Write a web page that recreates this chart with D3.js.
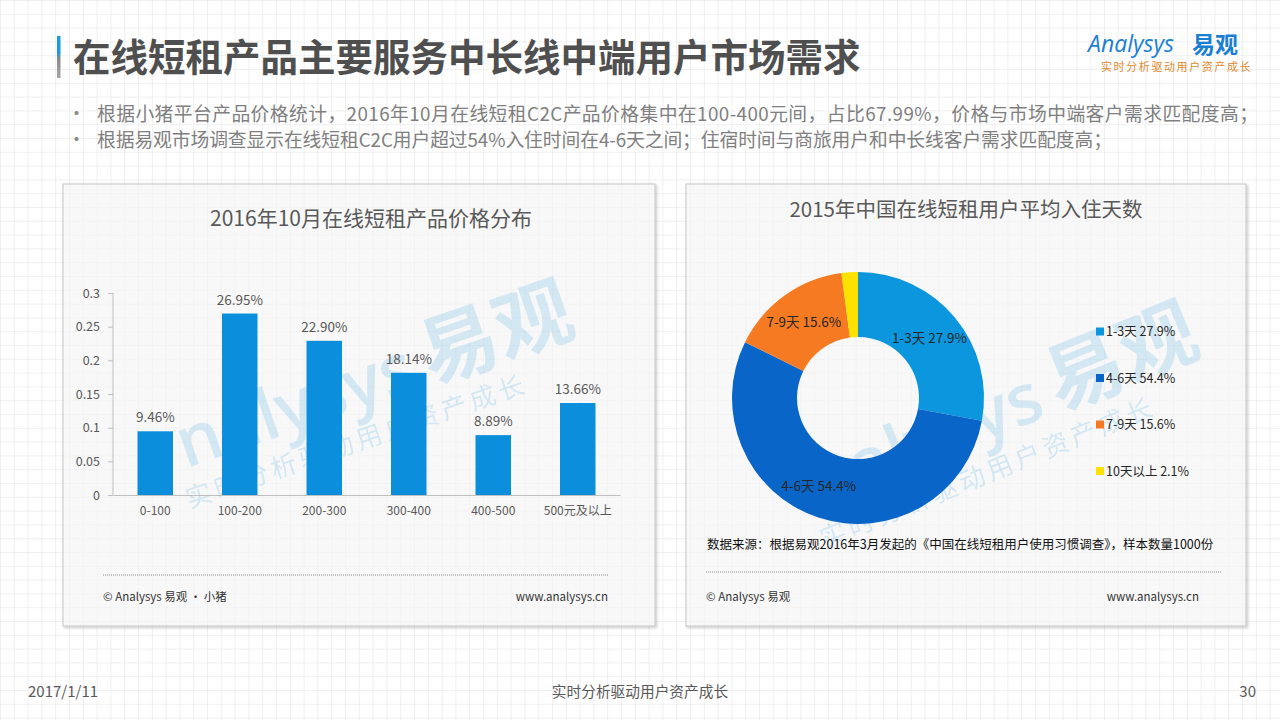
<!DOCTYPE html>
<html>
<head>
<meta charset="utf-8">
<script src="https://cdn.jsdelivr.net/npm/d3@7"></script>
<style>
  body { margin: 0; background: #fff; }
  svg { display: block; font-family: "Noto Sans CJK SC", "Noto Sans", sans-serif; }
</style>
</head>
<body>
<svg id="slide" width="1280" height="720"></svg>
<script>
// data
const priceCats = ["0-100", "100-200", "200-300", "300-400", "400-500", "500元及以上"];
const priceShares = [0.0946, 0.2695, 0.2290, 0.1814, 0.0889, 0.1366];
const priceLabels = ["9.46%", "26.95%", "22.90%", "18.14%", "8.89%", "13.66%"];
const yTicks = [0, 0.05, 0.1, 0.15, 0.2, 0.25, 0.3];

const stayCats = ["1-3天", "4-6天", "7-9天", "10天以上"];
const stayShares = [27.9, 54.4, 15.6, 2.1];
const stayColors = ["#0b96dd", "#0a65c9", "#f57a21", "#ffe100"];

const bullets = [
  "根据小猪平台产品价格统计，2016年10月在线短租C2C产品价格集中在100-400元间，占比67.99%，价格与市场中端客户需求匹配度高；",
  "根据易观市场调查显示在线短租C2C用户超过54%入住时间在4-6天之间；住宿时间与商旅用户和中长线客户需求匹配度高；"
];
const bulletWidths = [1161, 1015];

const svg = d3.select("#slide");

// grid paper background
const defs = svg.append("defs");
const pat = defs.append("pattern")
    .attr("id", "grid")
    .attr("width", 13.8).attr("height", 13.8)
    .attr("patternUnits", "userSpaceOnUse");
pat.append("path")
    .attr("d", "M13.8 0 L0 0 0 13.8")
    .attr("fill", "none")
    .attr("stroke", "#e2e2e2")
    .attr("stroke-width", 1);
const sh = defs.append("filter").attr("id", "shadow").attr("x", "-5%").attr("y", "-5%").attr("width", "110%").attr("height", "110%");
sh.append("feDropShadow").attr("dx", 1.5).attr("dy", 1.5).attr("stdDeviation", 1.2).attr("flood-color", "#000").attr("flood-opacity", 0.25);
const barGrad = defs.append("linearGradient").attr("id", "titleBar").attr("x1", 0).attr("y1", 0).attr("x2", 0).attr("y2", 1);
barGrad.append("stop").attr("offset", "0%").attr("stop-color", "#1b9be0");
barGrad.append("stop").attr("offset", "38%").attr("stop-color", "#1b9be0");
barGrad.append("stop").attr("offset", "55%").attr("stop-color", "#8a8a8a");
barGrad.append("stop").attr("offset", "100%").attr("stop-color", "#a8a8a8");

svg.append("rect").attr("width", 1280).attr("height", 720).attr("fill", "#fff");
svg.append("rect").attr("width", 1280).attr("height", 720).attr("fill", "url(#grid)");

// title
svg.append("rect").attr("x", 57).attr("y", 36).attr("width", 3.5).attr("height", 42).attr("fill", "url(#titleBar)");
svg.append("text")
    .attr("x", 73).attr("y", 71)
    .attr("font-size", 37.5).attr("font-weight", "bold").attr("fill", "#4f4f4f")
    .text("在线短租产品主要服务中长线中端用户市场需求");

// logo
const logo = svg.append("g").attr("transform", "translate(1088,0)");
logo.append("text")
    .attr("x", 0).attr("y", 52)
    .attr("font-size", 23).attr("fill", "#1a7fd2").attr("font-family", "Open Sans, sans-serif")
    .attr("font-style", "italic")
    .text("Analysys");
logo.append("text")
    .attr("x", 104).attr("y", 53)
    .attr("font-size", 23).attr("font-weight", "bold").attr("fill", "#1a7fd2")
    .text("易观");
logo.append("text")
    .attr("x", 13).attr("y", 71)
    .attr("font-size", 11).attr("fill", "#e0882c").attr("letter-spacing", 1.6)
    .text("实时分析驱动用户资产成长");

// bullets
bullets.forEach((b, i) => {
  const y = 121 + i * 26;
  svg.append("text").attr("x", 67).attr("y", y).attr("font-size", 19).attr("fill", "#8a8a8a").text("•");
  svg.append("text").attr("x", 97).attr("y", y)
      .attr("font-size", 18.8).attr("fill", "#7f7f7f")
      .attr("textLength", bulletWidths[i]).attr("lengthAdjust", "spacing")
      .text(b);
});

// panels
function panel(id, x, y, w, h) {
  svg.append("rect")
      .attr("x", x).attr("y", y).attr("width", w).attr("height", h)
      .attr("fill", "rgba(255,255,255,0.62)")
      .attr("stroke", "#c4c4c4").attr("stroke-width", 1)
      .attr("filter", "url(#shadow)");
  defs.append("clipPath").attr("id", id)
      .append("rect").attr("x", x + 1).attr("y", y + 1).attr("width", w - 2).attr("height", h - 2);
}
panel("clipL", 63, 184, 592, 442);
panel("clipR", 686, 184, 560, 442);

// light watermark in each panel
function watermark(clip, cx, cy, ang) {
  const g = svg.append("g").attr("clip-path", `url(#${clip})`)
      .append("g").attr("transform", `translate(${cx},${cy}) rotate(${ang})`)
      .attr("fill", "#0a8fd8").attr("opacity", 0.15);
  g.append("text").attr("text-anchor", "end").attr("x", 40).attr("y", 0)
      .attr("font-size", 70).attr("font-weight", 600).attr("font-family", "Open Sans, sans-serif")
      .text("nalysys");
  g.append("text").attr("x", 52).attr("y", 0)
      .attr("font-size", 78).attr("font-weight", "bold")
      .text("易观");
  g.append("text").attr("text-anchor", "middle").attr("x", -37).attr("y", 39)
      .attr("font-size", 26).attr("letter-spacing", 4)
      .text("实时分析驱动用户资产成长");
}
watermark("clipL", 382, 401, -19);
watermark("clipR", 1011, 431, -22);

// ---- left: price distribution bar chart ----
svg.append("text")
    .attr("x", 371).attr("y", 226).attr("text-anchor", "middle")
    .attr("font-size", 21).attr("fill", "#595959")
    .text("2016年10月在线短租产品价格分布");

const x = d3.scaleBand().domain(priceCats).range([113, 620]).paddingInner(0.58).paddingOuter(0.29);
const y = d3.scaleLinear().domain([0, 0.3]).range([495, 293]);

const yAxis = svg.append("g")
    .attr("transform", "translate(113,0)")
    .call(d3.axisLeft(y).tickValues(yTicks).tickSize(5).tickPadding(8).tickFormat(d => String(+d.toFixed(2))));
yAxis.selectAll("text").attr("font-size", 12.5).attr("fill", "#595959").attr("font-family", "Noto Sans CJK SC");
yAxis.selectAll("line").attr("stroke", "#bfbfbf");
yAxis.select(".domain").attr("stroke", "#bfbfbf").attr("d", "M0," + y(0.3) + "V" + y(0));

const xAxis = svg.append("g")
    .attr("transform", "translate(0,495)")
    .call(d3.axisBottom(x).tickSize(0).tickPadding(11));
xAxis.selectAll("text").attr("font-size", 12).attr("fill", "#595959").attr("font-family", "Noto Sans CJK SC");
xAxis.select(".domain").attr("stroke", "#bfbfbf");

const bars = svg.append("g");
bars.selectAll("rect")
    .data(priceShares)
    .join("rect")
    .attr("x", (d, i) => x(priceCats[i]))
    .attr("y", d => y(d))
    .attr("width", x.bandwidth())
    .attr("height", d => y(0) - y(d))
    .attr("fill", "#0b8fdc");
bars.selectAll("text")
    .data(priceShares)
    .join("text")
    .attr("x", (d, i) => x(priceCats[i]) + x.bandwidth() / 2)
    .attr("y", d => y(d) - 9)
    .attr("text-anchor", "middle")
    .attr("font-size", 13.5).attr("fill", "#595959")
    .text((d, i) => priceLabels[i]);

// left footer
svg.append("line").attr("x1", 103).attr("x2", 608).attr("y1", 575).attr("y2", 575)
    .attr("stroke", "#8c8c8c").attr("stroke-dasharray", "1,1");
svg.append("text").attr("x", 103).attr("y", 601).attr("font-size", 11.5).attr("fill", "#333")
    .text("© Analysys 易观 · 小猪");
svg.append("text").attr("x", 608).attr("y", 601).attr("text-anchor", "end").attr("font-size", 11.5).attr("fill", "#333")
    .text("www.analysys.cn");

// ---- right: stay days donut ----
svg.append("text")
    .attr("x", 966).attr("y", 217).attr("text-anchor", "middle")
    .attr("font-size", 20.5).attr("fill", "#595959")
    .text("2015年中国在线短租用户平均入住天数");

const cx = 858, cy = 398, rOut = 126, rIn = 61;
const pie = d3.pie().sort(null).value(d => d)(stayShares);
const arc = d3.arc().innerRadius(rIn).outerRadius(rOut);
const labelArc = d3.arc().innerRadius(93).outerRadius(93);

const donut = svg.append("g").attr("transform", `translate(${cx},${cy})`);
donut.selectAll("path")
    .data(pie)
    .join("path")
    .attr("d", arc)
    .attr("fill", (d, i) => stayColors[i]);
donut.selectAll("text")
    .data(pie.filter(d => d.data > 5))
    .join("text")
    .attr("transform", d => {
      const c = labelArc.centroid(d);
      // the 4-6 label sits a little left of the slice centre in the original
      return `translate(${c[0] - (d.index === 1 ? 10 : 0)},${c[1]})`;
    })
    .attr("dy", "0.35em")
    .attr("text-anchor", "middle")
    .attr("font-size", 13.5).attr("fill", "#262626")
    .text(d => stayCats[d.index] + " " + d.data.toFixed(1) + "%");

// legend
const legend = svg.append("g").attr("transform", "translate(1096,332)");
const lg = legend.selectAll("g")
    .data(stayCats)
    .join("g")
    .attr("transform", (d, i) => `translate(0,${i * 46.5})`);
lg.append("rect").attr("x", 0).attr("y", -4.5).attr("width", 8).attr("height", 8)
    .attr("fill", (d, i) => stayColors[i]);
lg.append("text").attr("x", 10).attr("dy", "0.35em")
    .attr("font-size", 12.5).attr("fill", "#262626")
    .text((d, i) => d + " " + stayShares[i].toFixed(1) + "%");

// source + right footer
svg.append("text").attr("x", 707).attr("y", 549).attr("font-size", 12.5).attr("fill", "#111")
    .text("数据来源：根据易观2016年3月发起的《中国在线短租用户使用习惯调查》，样本数量1000份");
svg.append("line").attr("x1", 706).attr("x2", 1222).attr("y1", 572).attr("y2", 572)
    .attr("stroke", "#8c8c8c").attr("stroke-dasharray", "1,1");
svg.append("text").attr("x", 706).attr("y", 601).attr("font-size", 11.5).attr("fill", "#333")
    .text("© Analysys 易观");
svg.append("text").attr("x", 1199).attr("y", 601).attr("text-anchor", "end").attr("font-size", 11.5).attr("fill", "#333")
    .text("www.analysys.cn");

// slide footer
svg.append("text").attr("x", 28).attr("y", 697).attr("font-size", 15).attr("fill", "#595959").text("2017/1/11");
svg.append("text").attr("x", 640).attr("y", 697).attr("text-anchor", "middle").attr("font-size", 14.7).attr("fill", "#595959")
    .text("实时分析驱动用户资产成长");
svg.append("text").attr("x", 1256).attr("y", 697).attr("text-anchor", "end").attr("font-size", 15).attr("fill", "#595959").text("30");
</script>
</body>
</html>
